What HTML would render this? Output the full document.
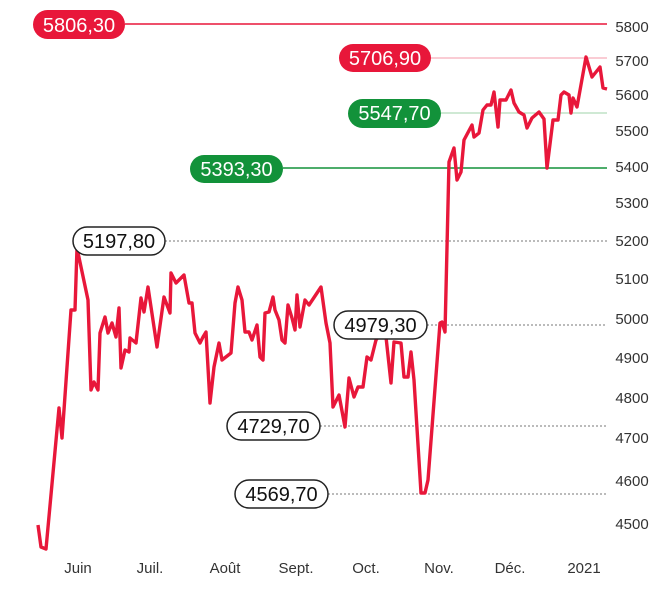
<!DOCTYPE html>
<html><head><meta charset="utf-8"><style>
html,body{margin:0;padding:0;background:#fff;}
svg{display:block;font-family:"Liberation Sans Narrow","Liberation Sans",sans-serif;}
</style></head><body>
<svg width="670" height="590" viewBox="0 0 670 590" xmlns="http://www.w3.org/2000/svg">
<g stroke-width="1.5">
<line x1="125" y1="24" x2="607" y2="24" stroke="#e8173a"/>
<line x1="431" y1="58" x2="607" y2="58" stroke="#f49aa8" stroke-width="1"/>
<line x1="441" y1="113" x2="607" y2="113" stroke="#9fd3a8" stroke-width="1"/>
<line x1="283" y1="168" x2="607" y2="168" stroke="#12923a"/>
</g>
<g stroke="#777" stroke-width="1" stroke-dasharray="2,2">
<line x1="165" y1="241" x2="607" y2="241"/>
<line x1="427" y1="325" x2="607" y2="325"/>
<line x1="320" y1="426" x2="607" y2="426"/>
<line x1="328" y1="494" x2="607" y2="494"/>
</g>
<polyline fill="none" stroke="#e8173a" stroke-width="3.4" stroke-linejoin="round" points="38,525 41,547 46,549 59,408 62,438 64,410 71,310 75,310 77,248 88,300 91,390 94,382 98,390 100,333 105,317 108,333 112,323 116,337 119,308 121,368 125,350 129,352 130,338 136,343 141,298 144,312 148,287 157,347 164,297 170,313 171,273 176,283 184,275 189,303 192,303 195,333 200,343 203,337 206,332 210,403 214,367 219,343 222,360 231,353 235,303 238,287 242,300 245,332 249,332 252,340 257,325 260,357 263,360 265,313 269,312 273,297 275,310 279,320 282,340 285,343 288,305 292,318 295,330 297,295 300,327 305,300 309,305 321,287 326,323 330,343 333,407 339,395 345,427 349,378 354,397 358,387 363,387 367,357 371,360 376,340 378,337 386,337 391,383 394,342 401,343 404,377 408,377 411,352 414,380 421,493 425,493 428,480 440,323 442,322 445,332 446,290 449,162 454,148 457,180 461,172 464,140 472,125 474,137 479,133 483,110 487,105 491,105 494,92 498,127 500,100 506,100 511,90 514,103 519,112 524,115 527,128 532,118 539,112 544,119 547,168 553,120 558,120 561,95 564,92 569,95 571,113 573,98 577,107 586,57 592,77 600,67 603,88 607,89"/>
<g font-size="20" text-anchor="middle">
<rect x="33" y="10" width="92" height="29" rx="14.5" fill="#e8173a"/><text x="79" y="32" fill="#fff">5806,30</text>
<rect x="339" y="44" width="92" height="28" rx="14" fill="#e8173a"/><text x="385" y="65" fill="#fff">5706,90</text>
<rect x="348" y="99" width="93" height="29" rx="14.5" fill="#12923a"/><text x="394.5" y="120" fill="#fff">5547,70</text>
<rect x="190" y="155" width="93" height="28" rx="14" fill="#12923a"/><text x="236.5" y="176" fill="#fff">5393,30</text>
<g fill="#fff" stroke="#222" stroke-width="1.5">
<rect x="73" y="227" width="92" height="28" rx="14"/>
<rect x="334" y="311" width="93" height="28" rx="14"/>
<rect x="227" y="412" width="93" height="28" rx="14"/>
<rect x="235" y="480" width="93" height="28" rx="14"/>
</g>
<g fill="#111">
<text x="119" y="248">5197,80</text>
<text x="380.5" y="332">4979,30</text>
<text x="273.5" y="433">4729,70</text>
<text x="281.5" y="501">4569,70</text>
</g>
</g>
<g font-size="15" fill="#333" text-anchor="middle">
<text x="632" y="32">5800</text><text x="632" y="66">5700</text><text x="632" y="100">5600</text>
<text x="632" y="136">5500</text><text x="632" y="172">5400</text><text x="632" y="208">5300</text>
<text x="632" y="246">5200</text><text x="632" y="284">5100</text><text x="632" y="324">5000</text>
<text x="632" y="363">4900</text><text x="632" y="403">4800</text><text x="632" y="443">4700</text>
<text x="632" y="486">4600</text><text x="632" y="529">4500</text>
<text x="78" y="573">Juin</text><text x="150" y="573">Juil.</text><text x="225" y="573">Août</text>
<text x="296" y="573">Sept.</text><text x="366" y="573">Oct.</text><text x="439" y="573">Nov.</text>
<text x="510" y="573">Déc.</text><text x="584" y="573">2021</text>
</g>
</svg>
</body></html>
